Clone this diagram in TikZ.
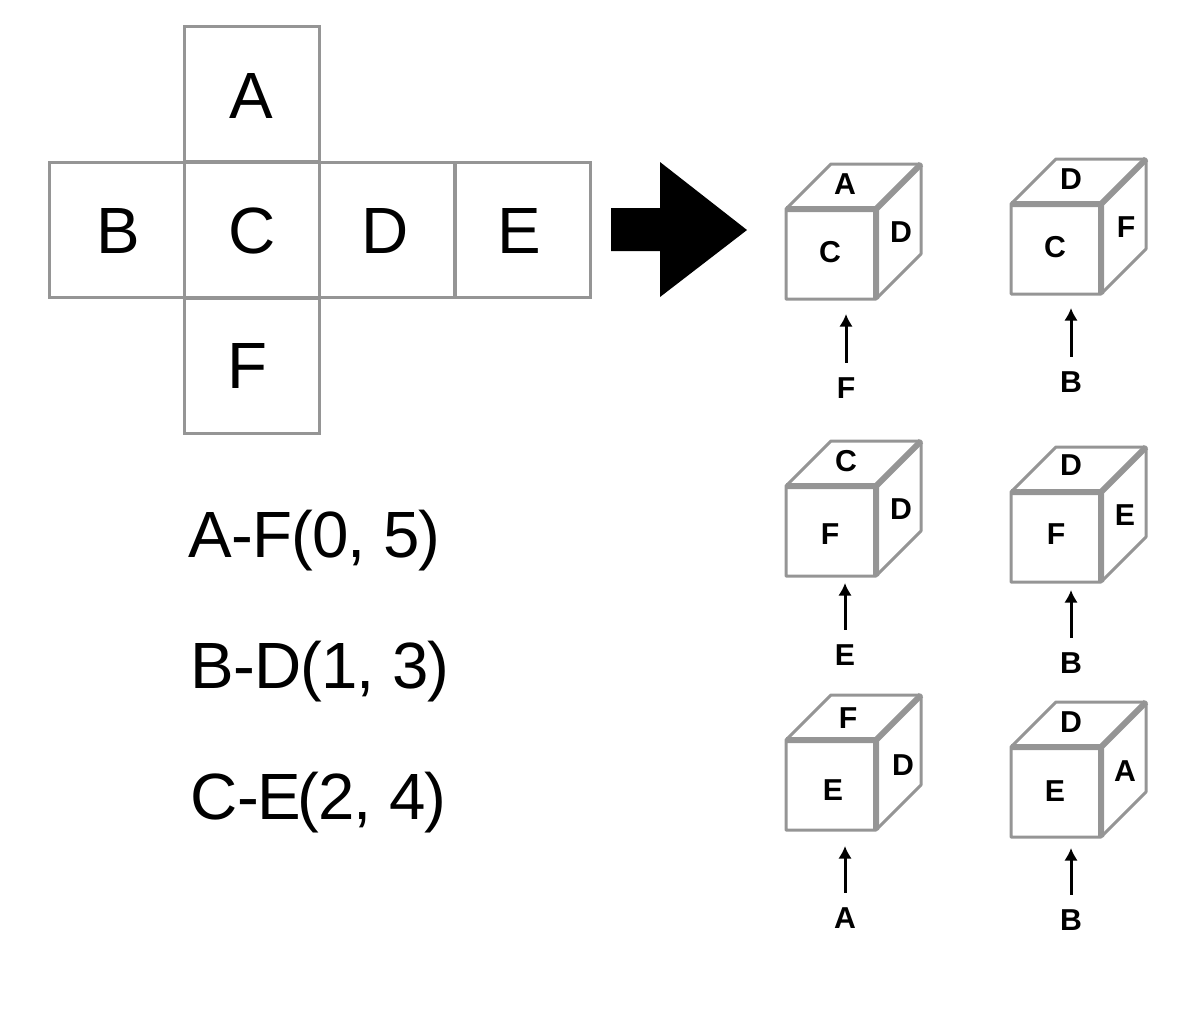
\documentclass[tikz,border=0pt]{standalone}
\usepackage{fontspec}
\usetikzlibrary{arrows.meta}
\setmainfont{Liberation Sans}
\definecolor{edgegray}{HTML}{959595}
\tikzset{
  face/.style={draw=edgegray,line width=0.85pt,minimum size=1.35cm,inner sep=0pt},
  letter/.style={inner sep=0pt,font=\fontsize{18.6}{20}\selectfont},
  small/.style={inner sep=0pt,font=\fontsize{8.6}{10}\bfseries\selectfont},
  rule/.style={inner sep=0pt,font=\fontsize{18.6}{20}\selectfont\addfontfeature{LetterSpace=-1.4},anchor=base west},
  thin edge/.style={edgegray,line width=0.85pt,line join=round},
  thick edge/.style={edgegray,line width=1.7pt,line join=round},
  view/.style={-{Latex[length=3.6pt,width=3.9pt]},line width=0.85pt,shorten <=4pt}
}
% cube drawn from top left corner of its front face
\newcommand{\netcube}[3]{
  \coordinate (#1a) at (#2,#3);
  \coordinate (#1b) at (#2+90,#3);
  \coordinate (#1c) at (#2+90,#3+90);
  \coordinate (#1d) at (#2,#3+90);
  \coordinate (#1e) at (#2+45,#3-45);
  \coordinate (#1f) at (#2+135,#3-45);
  \coordinate (#1g) at (#2+135,#3+45);
  \draw[thin edge] (#1a)--(#1d)--(#1c)--(#1g)--(#1f)--(#1e)--cycle;
  \draw[thick edge] (#1a)--(#1b)--(#1c) (#1b)--(#1f);
}
\begin{document}
\begin{tikzpicture}[x=0.01cm,y=-0.01cm]
  \useasboundingbox (0,0) rectangle (1200,1020);
  % the unfolded net
  \node[face] (netA) at (252,94) {};
  \node[face] (netB) at (117,230) {};
  \node[face] (netC) at (252,230) {};
  \node[face] (netD) at (387,230) {};
  \node[face] (netE) at (523,230) {};
  \node[face] (netF) at (252,366) {};
  \node[letter] (letA) at (251,96) {A};
  \node[letter] (letB) at (118,231) {B};
  \node[letter] (letC) at (252,231) {C};
  \node[letter] (letD) at (385,231) {D};
  \node[letter] (letE) at (519,231) {E};
  \node[letter] (letF) at (247,366) {F};
  % big arrow
  \fill[black] (611,208)--(660,208)--(660,162)--(747,230)--(660,297)--(660,251)--(611,251)--cycle;
  % pairs
  \node[rule] (ruleAF) at (188,557) {A-F(0, 5)};
  \node[rule] (ruleBD) at (190,688) {B-D(1, 3)};
  \node[rule] (ruleCE) at (190,819) {C-E\kern-1.1pt(2, 4)};
  % cubes
  \netcube{p}{786}{209}
  \netcube{q}{1011}{204}
  \netcube{r}{786}{486}
  \netcube{s}{1011}{492}
  \netcube{t}{786}{740}
  \netcube{u}{1011}{747}
  \foreach \n/\tx/\ty/\tl/\rx/\ry/\rl/\fx/\fy/\fl/\bx/\by/\bl/\ay in {
    p/845/184/A/901/232/D/830/252/C/846/388/F/314,
    q/1071/179/D/1126/227/F/1055/247/C/1071/382/B/308,
    r/846/461/C/901/509/D/830/534/F/845/655/E/583,
    s/1071/465/D/1125/515/E/1056/534/F/1071/663/B/590,
    t/848/718/F/903/765/D/833/790/E/845/918/A/846,
    u/1071/722/D/1125/771/A/1055/791/E/1071/920/B/848}{
    \node[small] (\n top) at (\tx,\ty) {\tl};
    \node[small] (\n side) at (\rx,\ry) {\rl};
    \node[small] (\n front) at (\fx,\fy) {\fl};
    \node[small] (\n under) at (\bx,\by) {\bl};
    \coordinate (\n tip) at (\bx,\ay);
    \draw[view] (\n under) -- (\n tip);
  }
\end{tikzpicture}
\end{document}
